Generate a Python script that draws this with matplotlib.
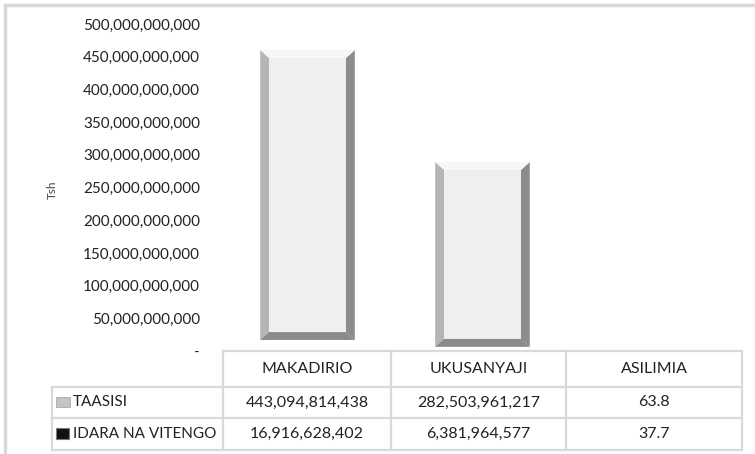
import matplotlib
matplotlib.use("Agg")
import matplotlib.pyplot as plt
from matplotlib.patches import Polygon, Rectangle
from matplotlib.lines import Line2D
from matplotlib.ticker import FuncFormatter

plt.rcParams['font.family'] = ['Lato', 'DejaVu Sans']

categories = ["MAKADIRIO", "UKUSANYAJI", "ASILIMIA"]
series_names = ["TAASISI", "IDARA NA VITENGO"]
taasisi = [443094814438, 282503961217, 63.8]
idara = [16916628402, 6381964577, 37.7]
table_text = [["443,094,814,438", "282,503,961,217", "63.8"],
              ["16,916,628,402", "6,381,964,577", "37.7"]]
y_ticks = [0, 50e9, 100e9, 150e9, 200e9, 250e9, 300e9, 350e9, 400e9, 450e9, 500e9]

W, H = 755, 454
fig = plt.figure(figsize=(W / 100, H / 100), dpi=100)


def fx(px):
    return px / W


def fy(py):
    return 1 - py / H


# outer frame
fig.add_artist(Rectangle((fx(5), -0.01), 1.0, fy(5) + 0.01, transform=fig.transFigure,
                         fill=False, edgecolor="#d9d9d9", linewidth=2.5))

ax = fig.add_axes([fx(220), fy(351), 525 / W, 327 / H])
x = list(range(len(categories)))
bw = 0.54
ax.bar(x, idara, width=bw, color="white", edgecolor="none")
bars = ax.bar(x, taasisi, width=bw, bottom=idara, color="#efefef", edgecolor="none")

ax.set_xlim(-0.5, len(categories) - 0.5)
ax.set_ylim(0, 500e9)
ax.set_yticks(y_ticks)
ax.yaxis.set_major_formatter(FuncFormatter(lambda v, p: "-" if v == 0 else f"{v:,.0f}"))
ax.tick_params(axis="y", length=0, pad=14.4, labelsize=11, labelcolor="#222222")
ax.set_xticks([])
for s in ax.spines.values():
    s.set_visible(False)

# bevel effect derived from bar geometry
bx = 0.05
by = 12e9
for r in bars:
    x0, y0 = r.get_x(), r.get_y()
    x1, y1 = x0 + r.get_width(), y0 + r.get_height()
    if r.get_height() < 3 * by:
        continue
    ax.add_patch(Polygon([(x0, y0), (x0 + bx, y0 + by), (x0 + bx, y1 - by), (x0, y1)],
                         closed=True, facecolor="#b5b5b5", edgecolor="none"))
    ax.add_patch(Polygon([(x1, y0), (x1 - bx, y0 + by), (x1 - bx, y1 - by), (x1, y1)],
                         closed=True, facecolor="#8c8c8c", edgecolor="none"))
    ax.add_patch(Polygon([(x0, y0), (x1, y0), (x1 - bx, y0 + by), (x0 + bx, y0 + by)],
                         closed=True, facecolor="#8a8a8a", edgecolor="none"))
    ax.add_patch(Polygon([(x0, y1), (x1, y1), (x1 - bx, y1 - by), (x0 + bx, y1 - by)],
                         closed=True, facecolor="#f7f7f7", edgecolor="none"))

# y label glyph
fig.text(fx(52), fy(190), "Tsh", rotation=90, fontsize=8.5, color="#444444",
         ha="center", va="center")

# data table drawn manually
col_edges = [52, 223, 391, 566, 742]
row_edges = [351, 387, 418, 450]
lc = "#d9d9d9"
lw = 1.6


def hline(y, xa, xb):
    fig.add_artist(Line2D([fx(xa), fx(xb)], [fy(y), fy(y)], transform=fig.transFigure,
                          color=lc, linewidth=lw, solid_capstyle="projecting"))


def vline(xp, ya, yb):
    fig.add_artist(Line2D([fx(xp), fx(xp)], [fy(ya), fy(yb)], transform=fig.transFigure,
                          color=lc, linewidth=lw, solid_capstyle="projecting"))


hline(row_edges[0], col_edges[1], col_edges[-1])
for y in row_edges[1:]:
    hline(y, col_edges[0], col_edges[-1])
for i, xp in enumerate(col_edges):
    ya = row_edges[0] if i > 0 else row_edges[1]
    vline(xp, ya, row_edges[-1])

tfs = 11.5
lfs = 11
tcol = "#222222"
for j, cat in enumerate(categories):
    cx = (col_edges[j + 1] + col_edges[j + 2]) / 2
    cy = (row_edges[0] + row_edges[1]) / 2
    fig.text(fx(cx), fy(cy), cat, ha="center", va="center", fontsize=tfs, color=tcol)
for i, name in enumerate(series_names):
    cy = (row_edges[i + 1] + row_edges[i + 2]) / 2
    fig.text(fx(73), fy(cy), name, ha="left", va="center", fontsize=lfs, color=tcol)
    for j, val in enumerate(table_text[i]):
        cx = (col_edges[j + 1] + col_edges[j + 2]) / 2
        fig.text(fx(cx), fy(cy), val, ha="center", va="center", fontsize=tfs, color=tcol)

# legend keys in row labels
fig.add_artist(Rectangle((fx(56), fy(407)), 14 / W, 10 / H, transform=fig.transFigure,
                         facecolor="#c4c4c4", edgecolor="#a8a8a8", linewidth=0.6))
fig.add_artist(Rectangle((fx(56), fy(439)), 13 / W, 11 / H, transform=fig.transFigure,
                         facecolor="#111111", edgecolor="#777777", linewidth=0.8))

fig.savefig("out.png", dpi=100)
